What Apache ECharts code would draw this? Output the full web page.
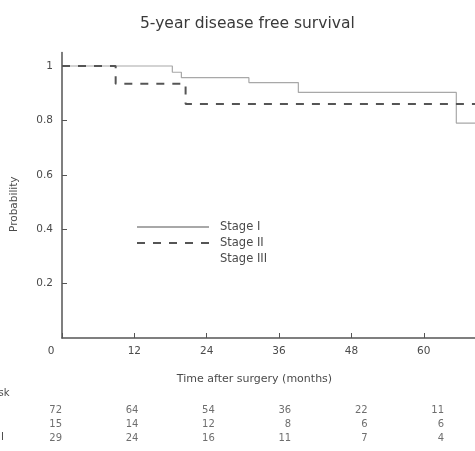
<!DOCTYPE html>
<html><head><meta charset="utf-8">
<script src="https://cdn.jsdelivr.net/npm/echarts@6/dist/echarts.min.js"></script>
<style>html,body{margin:0;padding:0;background:#fff}#c{width:475px;height:451px}</style>
</head><body><div id="c"></div>
<script>
// Kaplan-Meier step data (months, survival probability)
const stage1Times = [0, 18.3, 19.8, 31.0, 39.2, 65.4, 68.5];
const stage1Surv  = [1, 0.977, 0.957, 0.939, 0.903, 0.79, 0.79];
const stage2Times = [0, 8.9, 20.5, 68.5];
const stage2Surv  = [1, 0.935, 0.86, 0.86];
const seriesNames = ['Stage I', 'Stage II', 'Stage III'];
const xTicks = [0, 12, 24, 36, 48, 60];
const yTicks = [0.2, 0.4, 0.6, 0.8, 1];
// number at risk
const riskTimes = [0, 12, 24, 36, 48, 60];
const riskStage1 = [72, 64, 54, 36, 22, 11];
const riskStage2 = [15, 14, 12, 8, 6, 6];
const riskStage3 = [29, 24, 16, 11, 7, 4];

const FONT = '"DejaVu Sans", sans-serif';
const TXT = '#4a4a4a';
const AX = '#555';

function pairs(xs, ys) { return xs.map((x, i) => [x, ys[i]]); }
function riskPoints(arr, row) { return riskTimes.map((t, i) => ({ value: [t, row], label: { formatter: String(arr[i]) } })); }

const chart = echarts.init(document.getElementById('c'), null, { renderer: 'canvas' });
chart.setOption({
  animation: false,
  backgroundColor: '#fff',
  title: {
    text: '5-year disease free survival', left: 135, top: 11,
    textStyle: { fontFamily: FONT, fontSize: 15.5, fontWeight: 'normal', color: '#3a3a3a' }
  },
  legend: {
    orient: 'vertical', left: 131, top: 216,
    itemWidth: 72, itemHeight: 12, itemGap: 4,
    itemStyle: { opacity: 0 },
    textStyle: { fontFamily: FONT, fontSize: 11.5, color: TXT, padding: [0, 0, 0, 6] },
    data: seriesNames
  },
  grid: [
    { left: 62, right: 0, top: 52.4, bottom: 113 },
    { left: 62, right: 31, top: 403, height: 42 }
  ],
  xAxis: [
    {
      type: 'value', gridIndex: 0, min: 0, max: 68.5,
      name: 'Time after surgery (months)', nameLocation: 'middle', nameGap: 36,
      nameTextStyle: { fontFamily: FONT, fontSize: 11, color: TXT, padding: [0, 28, 0, 0] },
      axisLine: { lineStyle: { color: AX, width: 1.5 } },
      axisTick: { show: true, inside: true, length: 5, customValues: xTicks, lineStyle: { color: AX } },
      axisLabel: {
        customValues: xTicks, margin: 8, fontFamily: FONT, fontSize: 10.5, color: TXT,
        formatter: v => v === 0 ? '{z|0}' : String(v),
        rich: { z: { fontFamily: FONT, fontSize: 10.5, color: TXT, padding: [0, 22, 0, 0] } }
      },
      splitLine: { show: false }
    },
    {
      type: 'value', gridIndex: 1, min: 0, max: 60,
      show: false
    }
  ],
  yAxis: [
    {
      type: 'value', gridIndex: 0, min: 0, max: 1.05,
      name: 'Probability', nameLocation: 'middle', nameGap: 42, nameRotate: 90,
      nameTextStyle: { fontFamily: FONT, fontSize: 10.5, color: TXT, padding: [0, 0, 0, -18] },
      axisLine: { show: true, lineStyle: { color: AX, width: 1.5 } },
      axisTick: { show: true, inside: true, length: 5, customValues: yTicks, lineStyle: { color: AX } },
      axisLabel: { customValues: yTicks, margin: 9, fontFamily: FONT, fontSize: 10.5, color: TXT, formatter: v => String(v) },
      splitLine: { show: false }
    },
    {
      type: 'category', gridIndex: 1, inverse: true, data: seriesNames, show: false
    }
  ],
  series: [
    {
      name: 'Stage I', type: 'line', step: 'end', symbol: 'none', xAxisIndex: 0, yAxisIndex: 0,
      data: pairs(stage1Times, stage1Surv), z: 2,
      lineStyle: { color: '#a8a8a8', width: 1.2 }, itemStyle: { color: '#a8a8a8' }
    },
    {
      name: 'Stage II', type: 'line', step: 'end', symbol: 'none', xAxisIndex: 0, yAxisIndex: 0,
      data: pairs(stage2Times, stage2Surv), z: 3,
      lineStyle: { color: '#555', width: 2, type: [8, 8] }, itemStyle: { color: '#555' }
    },
    {
      name: 'Stage III', type: 'line', symbol: 'none', xAxisIndex: 0, yAxisIndex: 0,
      data: [], lineStyle: { color: '#777', width: 1, type: 'dotted', opacity: 0 }, itemStyle: { color: '#777', opacity: 0 }
    },
    ...[riskStage1, riskStage2, riskStage3].map((arr, r) => ({
      type: 'scatter', xAxisIndex: 1, yAxisIndex: 1, symbolSize: 0, silent: true,
      data: riskPoints(arr, seriesNames[r]),
      label: { show: true, position: 'left', distance: 0, fontFamily: FONT, fontSize: 10, color: TXT }
    }))
  ],
  graphic: [
    { type: 'text', left: -65, top: 388, style: { text: 'Number at risk', fontFamily: FONT, fontSize: 10, fill: TXT } },
    { type: 'text', left: -37, top: 404, style: { text: 'Stage I', fontFamily: FONT, fontSize: 10, fill: TXT } },
    { type: 'text', left: -37, top: 418, style: { text: 'Stage II', fontFamily: FONT, fontSize: 10, fill: TXT } },
    { type: 'text', left: -37, top: 432, style: { text: 'Stage III', fontFamily: FONT, fontSize: 10, fill: TXT } }
  ]
});
</script></body></html>
